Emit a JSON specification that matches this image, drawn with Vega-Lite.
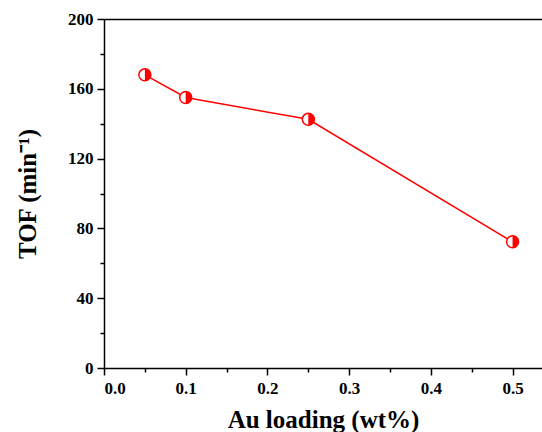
{
  "$schema": "https://vega.github.io/schema/vega-lite/v6.json",
  "autosize": {"type": "none"},
  "padding": {"left": 104, "top": 19, "right": 0, "bottom": 64},
  "width": 438,
  "height": 349,
  "background": "white",
  "config": {
    "font": "Liberation Serif",
    "view": {"stroke": null},
    "axis": {
      "labelFont": "Liberation Serif",
      "labelFontWeight": "bold",
      "labelFontSize": 16,
      "labelColor": "black",
      "titleFont": "Liberation Serif",
      "titleFontWeight": "bold",
      "titleFontSize": 25,
      "titleColor": "black",
      "domainColor": "black",
      "domainWidth": 1.5,
      "tickColor": "black",
      "tickWidth": 1.5,
      "grid": false
    }
  },
  "data": {
    "values": [
      {"loading": 0.05, "tof": 168},
      {"loading": 0.1, "tof": 155},
      {"loading": 0.25, "tof": 142.5},
      {"loading": 0.5, "tof": 72.3}
    ]
  },
  "resolve": {"axis": {"x": "independent", "y": "independent"}},
  "layer": [
    {
      "mark": {"type": "line", "color": "#ff0000", "strokeWidth": 1.5},
      "encoding": {
        "x": {
          "field": "loading", "type": "quantitative",
          "scale": {"domain": [0, 0.536], "nice": false, "zero": false},
          "axis": {
            "orient": "bottom",
            "values": [0, 0.1, 0.2, 0.3, 0.4, 0.5],
            "format": ".1f",
            "tickSize": 7,
            "labelPadding": 5,
            "labelFont": "serif",
            "labelFontWeight": 700,
            "labelFontSize": 17,
            "title": "Au loading (wt%)",
            "titlePadding": 11
          }
        },
        "y": {
          "field": "tof", "type": "quantitative",
          "scale": {"domain": [0, 200], "nice": false},
          "axis": {
            "orient": "left",
            "values": [0, 40, 80, 120, 160, 200],
            "tickSize": 7,
            "labelPadding": 4,
            "labelFont": "serif",
            "labelFontWeight": 700,
            "labelFontSize": 17,
            "title": "TOF (min⁻¹)",
            "titlePadding": 27
          }
        }
      }
    },
    {
      "mark": {"type": "point", "shape": "circle", "filled": true, "fill": "white", "stroke": "#ff0000", "strokeWidth": 1.5, "size": 144, "opacity": 1},
      "encoding": {
        "x": {
          "field": "loading", "type": "quantitative",
          "axis": {
            "orient": "bottom",
            "values": [0.05, 0.15, 0.25, 0.35, 0.45],
            "tickSize": 4,
            "labels": false,
            "domain": false,
            "title": null
          }
        },
        "y": {
          "field": "tof", "type": "quantitative",
          "axis": {
            "orient": "left",
            "values": [20, 60, 100, 140, 180],
            "tickSize": 4,
            "labels": false,
            "domain": false,
            "title": null
          }
        }
      }
    },
    {
      "mark": {"type": "point", "shape": "M0,-1A1,1,0,0,1,0,1Z", "filled": true, "fill": "#ff0000", "strokeWidth": 0, "size": 144, "opacity": 1},
      "encoding": {
        "x": {
          "field": "loading", "type": "quantitative",
          "axis": {
            "orient": "top",
            "ticks": false,
            "labels": false,
            "title": null
          }
        },
        "y": {
          "field": "tof", "type": "quantitative",
          "axis": null
        }
      }
    }
  ]
}
